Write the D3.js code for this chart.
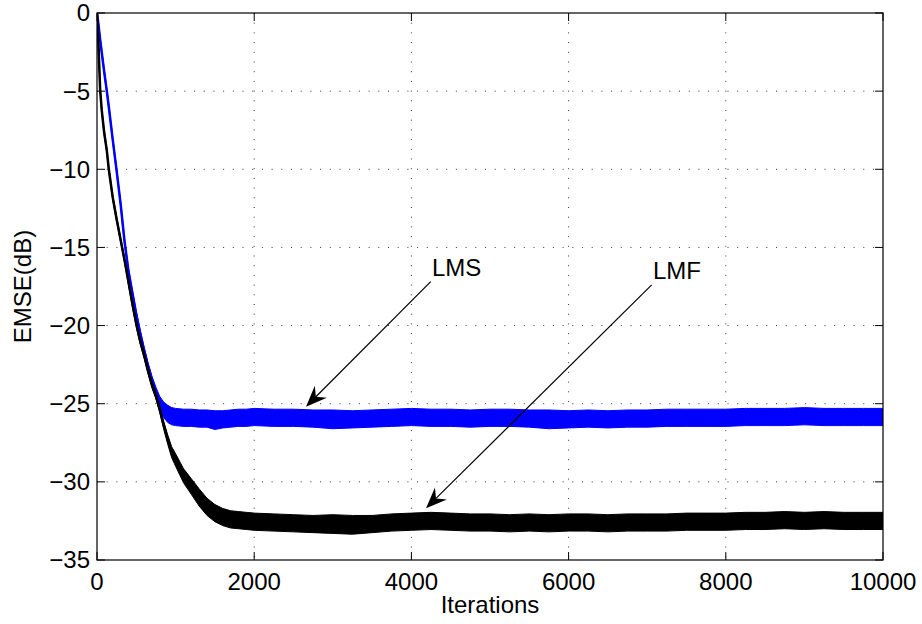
<!DOCTYPE html>
<html>
<head>
<meta charset="utf-8">
<script src="https://cdnjs.cloudflare.com/ajax/libs/d3/7.8.5/d3.min.js"></script>
<style>
  body { margin: 0; background: #fff; }
  svg { display: block; }
  text { font-family: "Liberation Sans", Arial, Helvetica, sans-serif; fill: #000; }
</style>
</head>
<body>
<svg id="chart"></svg>
<script>
// sample points (iterations)
var iterations = [0,20,40,60,90,125,150,200,250,300,350,400,450,500,550,600,650,700,750,800,
  850,900,950,1000,1100,1200,1300,1400,1500,1600,1700,1800,1900,
  2000,2250,2500,2750,3000,3250,3500,3750,4000,4250,4500,4750,5000,5250,5500,5750,6000,
  6250,6500,6750,7000,7250,7500,7750,8000,8250,8500,8750,9000,9250,9500,9750,10000];

// LMS (blue) mean EMSE, dB
var lmsDb = [0,-0.8,-1.7,-2.5,-3.7,-5.0,-6.0,-8.1,-10.1,-12.2,-14.6,-16.5,-17.9,-19.3,-20.5,-21.6,-22.6,-23.5,-24.3,-25.0,
  -25.4,-25.65,-25.8,-25.85,-25.9,-25.9,-25.95,-25.95,-26.05,-26.0,-25.95,-25.9,-25.9,
  -25.85,-25.9,-25.9,-25.95,-26.0,-26.0,-25.95,-25.9,-25.85,-25.9,-25.9,-25.95,-25.9,-25.9,-25.95,-26.0,-26.0,
  -25.95,-26.0,-25.95,-25.95,-25.9,-25.9,-25.9,-25.9,-25.85,-25.85,-25.85,-25.8,-25.85,-25.85,-25.85,-25.85];

// LMF (black) mean EMSE, dB
var lmfDb = [0,-2.2,-4.9,-6.2,-7.6,-8.8,-10.0,-11.8,-13.2,-14.5,-15.8,-17.2,-18.6,-19.9,-21.0,-21.9,-22.9,-23.8,-24.5,-25.4,
  -26.4,-27.3,-28.1,-28.6,-29.6,-30.3,-31.0,-31.6,-32.0,-32.25,-32.4,-32.45,-32.5,
  -32.55,-32.6,-32.65,-32.7,-32.7,-32.75,-32.7,-32.6,-32.55,-32.5,-32.55,-32.6,-32.6,-32.65,-32.6,-32.65,-32.6,
  -32.6,-32.65,-32.6,-32.6,-32.6,-32.55,-32.55,-32.55,-32.5,-32.5,-32.45,-32.5,-32.45,-32.5,-32.5,-32.5];

// half width of the noise band, dB
var lmsSpread = [0.1,0.15,0.15,0.15,0.15,0.15,0.15,0.15,0.15,0.15,0.15,0.15,0.15,0.2,0.2,0.2,0.2,0.25,0.35,0.45,
  0.5,0.55,0.55,0.55,0.55,0.55,0.55,0.55,0.6,0.55,0.55,0.55,0.55,
  0.55,0.55,0.55,0.55,0.6,0.55,0.55,0.55,0.55,0.55,0.55,0.55,0.55,0.55,0.55,0.6,0.55,
  0.55,0.55,0.55,0.55,0.55,0.55,0.55,0.55,0.55,0.55,0.55,0.55,0.55,0.55,0.55,0.55];
var lmfSpread = [0.1,0.15,0.15,0.15,0.15,0.15,0.15,0.15,0.15,0.15,0.15,0.2,0.2,0.2,0.2,0.2,0.2,0.2,0.2,0.2,
  0.25,0.3,0.35,0.4,0.45,0.5,0.55,0.55,0.55,0.55,0.55,0.55,0.55,
  0.55,0.55,0.55,0.55,0.6,0.6,0.55,0.55,0.55,0.55,0.55,0.55,0.55,0.55,0.55,0.55,0.55,
  0.55,0.55,0.55,0.55,0.55,0.55,0.55,0.55,0.55,0.55,0.55,0.55,0.55,0.55,0.55,0.55];

var xTicks = [0,2000,4000,6000,8000,10000];
var yTicks = [0,-5,-10,-15,-20,-25,-30,-35];

// annotations: label anchor and arrow from tail to tip, in data units
var noteText = ['LMS','LMF'];
var noteLabel = [[4262,-16.83],[7074,-17.02]];
var noteTail = [[4246,-17.19],[7057,-17.40]];
var noteTip = [[2659,-25.19],[4186,-31.69]];

var screen = { width: 922, height: 624 };
var margins = { top: 13, bottom: 64, left: 97, right: 39 };
var width = screen.width - margins.left - margins.right;
var height = screen.height - margins.top - margins.bottom;

var svg = d3.select('#chart')
  .attr('width', screen.width)
  .attr('height', screen.height);

var xScale = d3.scaleLinear().domain([0,10000]).range([0,width]);
var yScale = d3.scaleLinear().domain([-35,0]).range([height,0]);

var g = svg.append('g')
  .attr('transform','translate(' + margins.left + ',' + margins.top + ')');

g.append('clipPath').attr('id','clip')
  .append('rect').attr('width', width).attr('height', height);

// dotted grid
g.selectAll('.vgrid')
  .data(xTicks.slice(1, -1))
  .enter().append('line')
  .attr('x1', d => xScale(d)).attr('x2', d => xScale(d))
  .attr('y1', 0).attr('y2', height)
  .attr('stroke','#333').attr('stroke-width',1)
  .attr('stroke-dasharray','1,8.7');
g.selectAll('.hgrid')
  .data(yTicks.slice(1, -1))
  .enter().append('line')
  .attr('y1', d => yScale(d)).attr('y2', d => yScale(d))
  .attr('x1', 0).attr('x2', width)
  .attr('stroke','#333').attr('stroke-width',1)
  .attr('stroke-dasharray','1,8.7');

var drawSeries = function(vals, spread, color) {
  var pts = iterations.map(function(it, i) { return { x: it, y: vals[i], s: spread[i] }; });
  var area = d3.area()
    .x(d => xScale(d.x))
    .y0(d => yScale(d.y - d.s))
    .y1(d => yScale(d.y + d.s));
  var line = d3.line()
    .x(d => xScale(d.x))
    .y(d => yScale(d.y));
  var s = g.append('g').attr('clip-path','url(#clip)');
  s.append('path').datum(pts)
    .attr('d', area)
    .attr('fill', color)
    .attr('stroke', color).attr('stroke-width', 1);
  s.append('path').datum(pts)
    .attr('d', line)
    .attr('fill','none')
    .attr('stroke', color).attr('stroke-width', 2.5);
};

drawSeries(lmsDb, lmsSpread, '#0000ff');
drawSeries(lmfDb, lmfSpread, '#000000');

// box and inward ticks
var tickLen = 8;
g.append('rect').attr('width', width).attr('height', height)
  .attr('fill','none').attr('stroke','#000').attr('stroke-width',1.2);

xTicks.forEach(function(t) {
  g.append('line').attr('x1', xScale(t)).attr('x2', xScale(t))
    .attr('y1', height).attr('y2', height - tickLen).attr('stroke','#000');
  g.append('line').attr('x1', xScale(t)).attr('x2', xScale(t))
    .attr('y1', 0).attr('y2', tickLen).attr('stroke','#000');
});
yTicks.forEach(function(t) {
  g.append('line').attr('y1', yScale(t)).attr('y2', yScale(t))
    .attr('x1', 0).attr('x2', tickLen).attr('stroke','#000');
  g.append('line').attr('y1', yScale(t)).attr('y2', yScale(t))
    .attr('x1', width).attr('x2', width - tickLen).attr('stroke','#000');
});

// tick labels
g.selectAll('.xlab')
  .data(xTicks)
  .enter().append('text')
  .attr('x', d => xScale(d))
  .attr('y', height + 30)
  .attr('text-anchor','middle')
  .style('font-size','24px')
  .text(d => d);

g.selectAll('.ylab')
  .data(yTicks)
  .enter().append('text')
  .attr('x', -7)
  .attr('y', d => yScale(d))
  .attr('dy','0.35em')
  .attr('text-anchor','end')
  .style('font-size','24px')
  .text(d => d < 0 ? '\u2212' + Math.abs(d) : d);

// axis titles
g.append('text')
  .attr('x', width / 2).attr('y', height + 53)
  .attr('text-anchor','middle')
  .style('font-size','24px')
  .text('Iterations');

g.append('text')
  .attr('transform','translate(' + (-66) + ',' + (height / 2) + ') rotate(-90)')
  .attr('text-anchor','middle')
  .style('font-size','24px')
  .text('EMSE(dB)');

// annotations with arrows
var headLen = 21, headHalf = 8.5, notch = 14;
noteText.forEach(function(txt, i) {
  g.append('text')
    .attr('x', xScale(noteLabel[i][0]))
    .attr('y', yScale(noteLabel[i][1]))
    .style('font-size','24px')
    .text(txt);
  var x1 = xScale(noteTail[i][0]), y1 = yScale(noteTail[i][1]);
  var x2 = xScale(noteTip[i][0]), y2 = yScale(noteTip[i][1]);
  var len = Math.sqrt((x2 - x1) * (x2 - x1) + (y2 - y1) * (y2 - y1));
  var ux = (x2 - x1) / len, uy = (y2 - y1) / len;
  var px = -uy, py = ux;
  g.append('line')
    .attr('x1', x1).attr('y1', y1)
    .attr('x2', x2 - ux * notch).attr('y2', y2 - uy * notch)
    .attr('stroke','#000').attr('stroke-width',1.2);
  var head = [
    [x2, y2],
    [x2 - ux * headLen + px * headHalf, y2 - uy * headLen + py * headHalf],
    [x2 - ux * notch, y2 - uy * notch],
    [x2 - ux * headLen - px * headHalf, y2 - uy * headLen - py * headHalf]
  ];
  g.append('path')
    .attr('d', 'M' + head.map(p => p.join(',')).join('L') + 'Z')
    .attr('fill','#000');
});
</script>
</body>
</html>
